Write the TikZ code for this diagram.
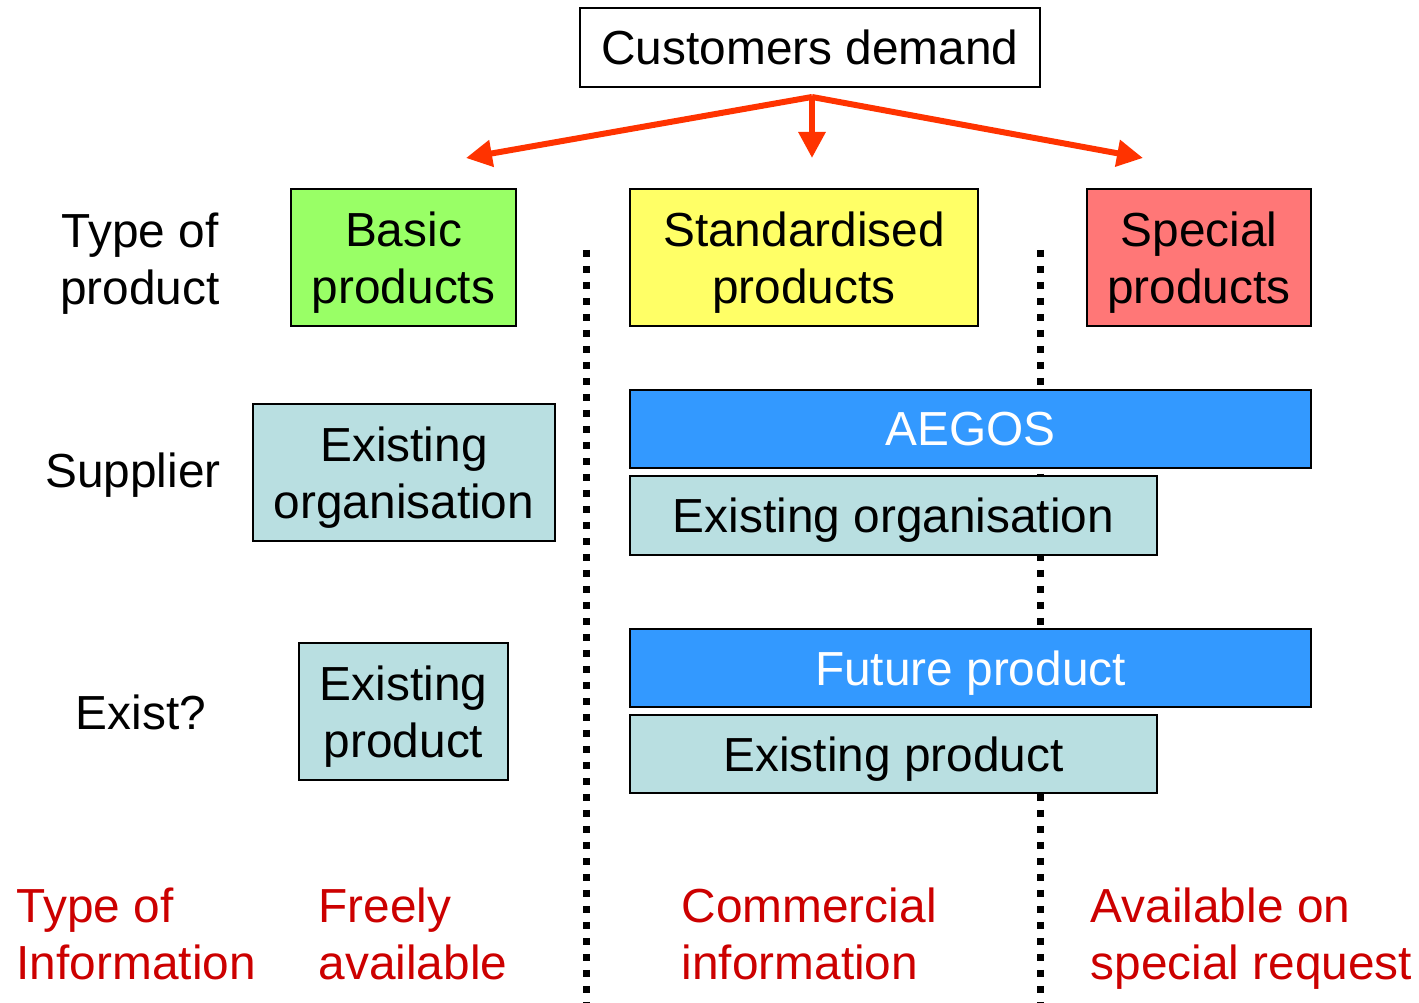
\documentclass[tikz,border=0pt]{standalone}
\usepackage{fontspec}
\setmainfont{Liberation Sans}
\usepackage{tikz}
\usetikzlibrary{arrows.meta,positioning}

\definecolor{basicgreen}{HTML}{99FF66}
\definecolor{stdyellow}{HTML}{FFFF66}
\definecolor{specialred}{HTML}{FF7777}
\definecolor{existteal}{HTML}{B9DFE1}
\definecolor{aegosblue}{HTML}{3399FF}
\definecolor{demandred}{HTML}{FF3300}
\definecolor{infored}{HTML}{CC0000}

\tikzset{
  box/.style={draw=black, line width=0.6pt, inner sep=0pt, align=center, text depth=0pt,
    font=\fontsize{13.6}{16.3}\selectfont},
  wide/.style={box, line width=0.8pt},
  rowlabel/.style={align=center, inner sep=0pt, text depth=0pt, font=\fontsize{13.6}{16.3}\selectfont},
  infolabel/.style={align=left, anchor=west, inner sep=0pt, text depth=0pt, text=infored,
    font=\fontsize{13.6}{16.3}\selectfont},
  border/.style={line width=0.07cm, dash pattern=on 0.07cm off 0.09cm},
  demand/.style={demandred, line width=0.06cm, -{Triangle[length=0.26cm,width=0.26cm]}}
}

\begin{document}
\begin{tikzpicture}
    \useasboundingbox (0,0) rectangle (14.19,-10.03);

    % columns borders
    \draw[border] (5.86,-2.50) -- (5.86,-10.03);
    \draw[border] (10.40,-2.50) -- (10.40,-10.03);

    % top
    \node[box, fill=white, minimum width=4.60cm, minimum height=0.79cm] (demand) at (8.10,-0.475) {Customers demand};
    \coordinate (split) at (8.12,-0.97);
    \coordinate (leftend) at (4.66,-1.58);
    \coordinate (midend) at (8.12,-1.58);
    \coordinate (rightend) at (11.43,-1.58);
    \draw[demand] (split) -- (leftend);
    \draw[demand] (split) -- (midend);
    \draw[demand] (split) -- (rightend);

    % type of product
    \node[rowlabel] (typelbl) at (1.40,-2.59) {Type of\\product};
    \node[box, fill=basicgreen, minimum width=2.25cm, minimum height=1.37cm] (basic) at (4.035,-2.575) {Basic\\products};
    \node[box, fill=stdyellow, minimum width=3.48cm, minimum height=1.37cm] (standard) at (8.04,-2.575) {Standardised\\products};
    \node[box, fill=specialred, minimum width=2.24cm, minimum height=1.37cm] (special) at (11.99,-2.575) {Special\\products};

    % supplier
    \node[rowlabel] (supplbl) at (1.33,-4.70) {Supplier};
    \node[box, fill=existteal, minimum width=3.02cm, minimum height=1.37cm] (orgleft) at (4.04,-4.725) {Existing\\organisation};
    \node[wide, fill=aegosblue, text=white, minimum width=6.81cm, minimum height=0.78cm] (aegos) at (9.705,-4.29) {AEGOS};
    \node[box, fill=existteal, minimum width=5.27cm, minimum height=0.79cm] (orgmid) at (8.935,-5.155) {Existing organisation};

    % exist?
    \node[rowlabel] (existlbl) at (1.41,-7.12) {Exist?};
    \node[box, fill=existteal, minimum width=2.09cm, minimum height=1.37cm] (prodleft) at (4.035,-7.115) {Existing\\product};
    \node[wide, fill=aegosblue, text=white, minimum width=6.81cm, minimum height=0.78cm] (future) at (9.705,-6.68) {Future product};
    \node[box, fill=existteal, minimum width=5.27cm, minimum height=0.78cm] (prodmid) at (8.935,-7.54) {Existing product};

    % type of information
    \node[infolabel] (infolbl) at (0.16,-9.34) {Type of\\Information};
    \node[infolabel] (freely) at (3.18,-9.34) {Freely\\available};
    \node[infolabel] (commercial) at (6.81,-9.34) {Commercial\\information};
    \node[infolabel] (request) at (10.90,-9.34) {Available on\\special request};
\end{tikzpicture}
\end{document}
